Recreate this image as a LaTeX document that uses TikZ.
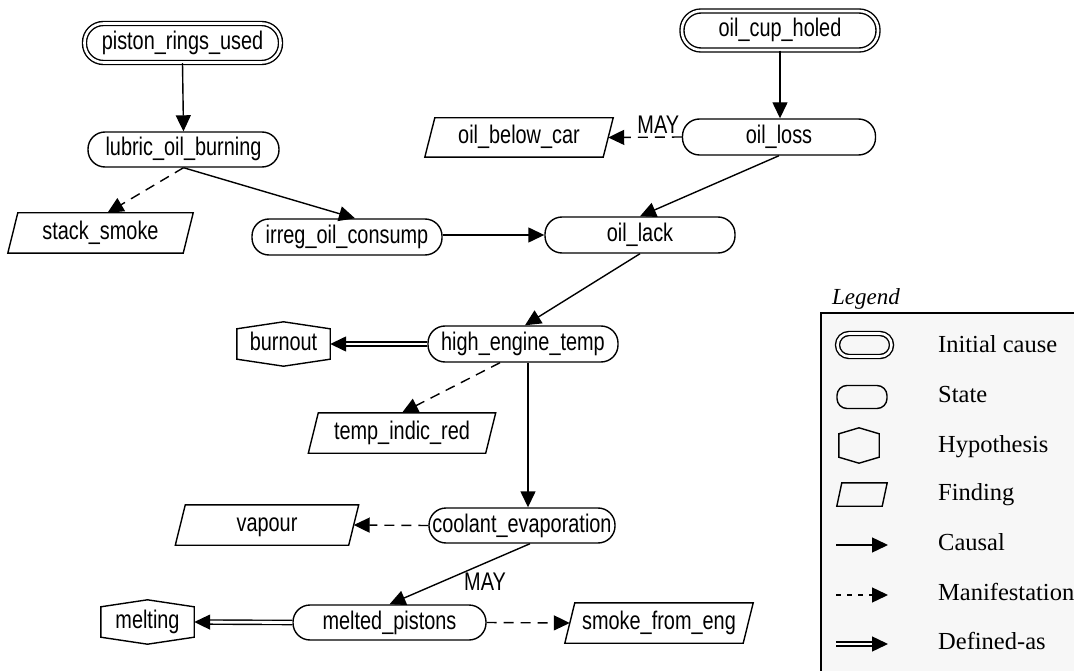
\documentclass[tikz,border=0pt]{standalone}
\usepackage{fontspec}
\setmainfont{Liberation Serif}
\newfontfamily\nodefont[FakeStretch=0.78]{Liberation Sans}
\usetikzlibrary{arrows.meta}

\tikzset{
  outline/.style={line width=1.4pt},
  labeltext/.style={font=\nodefont\fontsize{25.5}{29}\selectfont, text height=18pt, text depth=5pt, inner sep=0pt},
  statebox/.style={labeltext, draw, outline, rounded corners=17pt, minimum height=35pt},
  initbox/.style={statebox, double, double distance=2.6pt, line width=1.4pt, minimum height=39pt, rounded corners=19pt},
  findbox/.style={labeltext, minimum height=39pt},
  hypobox/.style={labeltext, minimum height=30pt},
  tip/.style={-{Triangle[length=16pt,width=15pt]}},
  causal/.style={outline, tip},
  manif/.style={outline, tip, dash pattern=on 10pt off 7pt},
  defas/.style={double, double distance=2.8pt, line width=1.4pt, tip},
  keytext/.style={anchor=base west, inner sep=0pt, font=\fontsize{24.5}{28}\selectfont},
}

\begin{document}
\begin{tikzpicture}[x=1pt, y=-1pt]
\useasboundingbox (0,0) rectangle (1074,671);
\clip (0,0) rectangle (1074,671);

% ---- fault graph nodes ----
\node[initbox, minimum width=196pt] (piston) at (182.5,43) {piston\_rings\_used};
\node[statebox, minimum width=191pt] (lubric) at (183.5,149.5) {lubric\_oil\_burning};
\node[findbox, minimum width=175pt, minimum height=40pt] (stack) at (100.5,233) {stack\_smoke};
\node[statebox, minimum width=190pt, minimum height=36pt] (irreg) at (347,237) {irreg\_oil\_consump};
\node[initbox, minimum width=196pt] (cup) at (780,30.5) {oil\_cup\_holed};
\node[findbox, minimum width=178pt] (below) at (519,137.5) {oil\_below\_car};
\node[statebox, minimum width=193pt, minimum height=36pt] (loss) at (779,137) {oil\_loss};
\node[statebox, minimum width=190pt, minimum height=36pt] (lack) at (640,235) {oil\_lack};
\node[statebox, minimum width=190pt, minimum height=36pt] (high) at (523,344) {high\_engine\_temp};
\node[hypobox, minimum width=93pt] (burnout) at (283.5,344) {burnout};
\node[findbox, minimum width=177pt, minimum height=40pt] (indic) at (402,433) {temp\_indic\_red};
\node[statebox, minimum width=186pt] (coolant) at (522,525.5) {coolant\_evaporation};
\node[findbox, minimum width=173pt, minimum height=40pt] (vapour) at (267,525) {vapour};
\node[statebox, minimum width=193pt] (melted) at (389.5,622.5) {melted\_pistons};
\node[hypobox, minimum width=93pt] (melting) at (147.5,622) {melting};
\node[findbox, minimum width=178pt, minimum height=40pt] (smokeeng) at (659,623) {smoke\_from\_eng};

% findings are parallelograms
\foreach \n in {stack,below,indic,vapour,smokeeng}
  \draw[outline] ([xshift=5pt]\n.north west) -- ([xshift=5pt]\n.north east)
    -- ([xshift=-5pt]\n.south east) -- ([xshift=-5pt]\n.south west) -- cycle;
% hypotheses are hexagons
\foreach \n in {burnout,melting}
  \draw[outline] (\n.north west) -- ([yshift=7pt]\n.north) -- (\n.north east)
    -- (\n.south east) -- ([yshift=-7pt]\n.south) -- (\n.south west) -- cycle;

% ---- relations ----
\draw[causal] (piston.south) -- (lubric.north);
\draw[manif] (lubric.south) -- ([xshift=7pt]stack.north);
\draw[causal] (lubric.south) -- ([xshift=8pt]irreg.north);
\draw[causal] (irreg.east |- lack.west) -- (lack.west);
\draw[causal] (cup.south) -- (cup.south |- loss.north);
\draw[manif] (loss.west) -- node[labeltext, pos=0.32, anchor=south, yshift=3pt, text depth=0pt] {MAY} (below.east);
\draw[causal] (loss.south) -- (lack.north);
\draw[causal] (lack.south) -- ([xshift=2pt]high.north);
\draw[defas] (high.west) -- (burnout.east);
\draw[manif] ([xshift=-23pt]high.south) -- (indic.north);
\draw[causal] ([xshift=5pt]high.south) -- ([xshift=6pt]coolant.north);
\draw[manif] (coolant.west) -- (vapour.east);
\draw[causal] ([xshift=8pt]coolant.south) -- node[labeltext, pos=0.32, yshift=-21pt] {MAY} (melted.north);
\draw[defas] (melted.west) -- (melting.east);
\draw[manif] (melted.east) -- (smokeeng.west);

% ---- legend ----
\draw[outline, fill=black!3] (821,313) rectangle (1090,690);
\node[anchor=base west, inner sep=0pt, font=\itshape\fontsize{23}{27}\selectfont] (legendtitle) at (832,305) {Legend};

\node[initbox, minimum width=54pt, minimum height=23pt, rounded corners=11.5pt] (kinit) at (864.5,345) {};
\node[statebox, minimum width=50pt, minimum height=20pt, rounded corners=10pt] (kstate) at (862,397) {};
\node[hypobox, minimum width=40pt, minimum height=17pt] (khypo) at (859,445.5) {};
\draw[outline] (khypo.north west) -- ([yshift=6pt]khypo.north) -- (khypo.north east)
  -- (khypo.south east) -- ([yshift=-6pt]khypo.south) -- (khypo.south west) -- cycle;
\node[findbox, minimum width=45pt, minimum height=23pt] (kfind) at (862,494.5) {};
\draw[outline] ([xshift=2.5pt]kfind.north west) -- ([xshift=2.5pt]kfind.north east)
  -- ([xshift=-2.5pt]kfind.south east) -- ([xshift=-2.5pt]kfind.south west) -- cycle;
\coordinate (kcausalA) at (836,545);
\coordinate (kcausalB) at (888,545);
\coordinate (kmanifA) at (836,595);
\coordinate (kmanifB) at (888,595);
\coordinate (kdefA) at (836,644);
\coordinate (kdefB) at (888,644);
\draw[causal] (kcausalA) -- (kcausalB);
\draw[outline, tip, dash pattern=on 5pt off 6pt] (kmanifA) -- (kmanifB);
\draw[defas] (kdefA) -- (kdefB);

\node[keytext] (tinit) at (938,352) {Initial cause};
\node[keytext] (tstate) at (938,402) {State};
\node[keytext] (thypo) at (938,452) {Hypothesis};
\node[keytext] (tfind) at (938,500) {Finding};
\node[keytext] (tcausal) at (938,550) {Causal};
\node[keytext] (tmanif) at (938,600) {Manifestation};
\node[keytext] (tdef) at (938,649) {Defined-as};
\end{tikzpicture}
\end{document}
